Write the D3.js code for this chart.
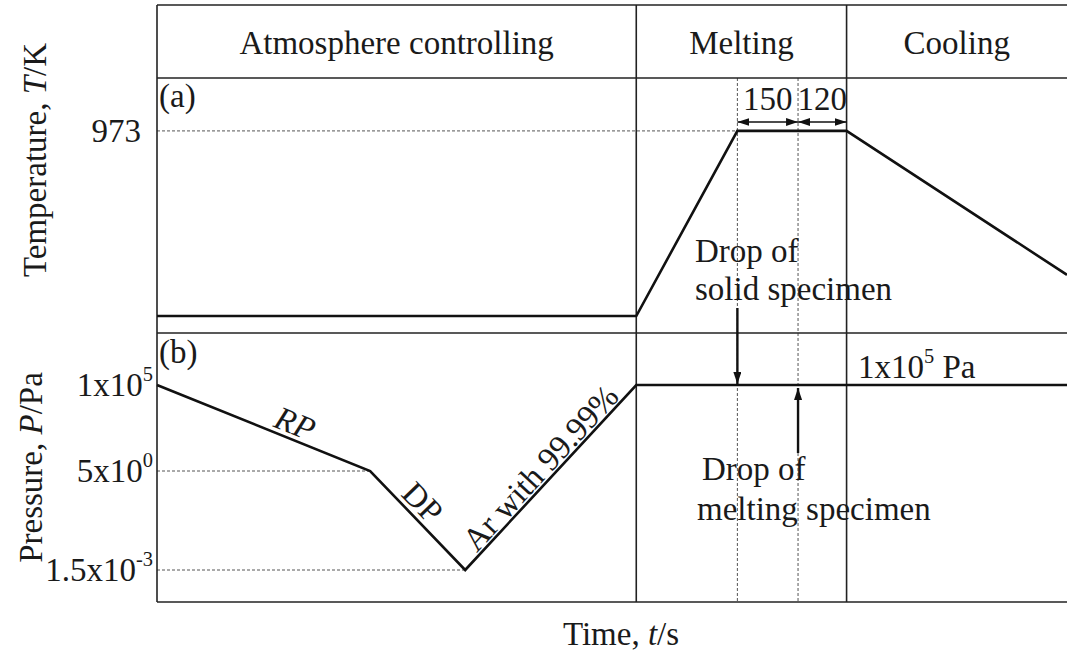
<!DOCTYPE html>
<html>
<head>
<meta charset="utf-8">
<script src="https://cdn.jsdelivr.net/npm/d3@7/dist/d3.min.js"></script>
<style>
  html, body { margin: 0; padding: 0; background: #fff; }
  svg text { font-family: "Liberation Serif", "Times New Roman", serif; fill: #1a1a1a; }
</style>
</head>
<body>
<svg id="chart" width="1067" height="653"></svg>
<script>
// Process stages along the time axis (s)
const phaseNames = ["Atmosphere controlling", "Melting", "Cooling"];
const phaseStart = [0, 1185, 1705];
const phaseEnd = [1185, 1705, 2250];

// Temperature history (K)
const tempTime = [0, 1185, 1435, 1705, 2250];
const tempK = [298, 298, 973, 973, 448];
const tempTicks = [973];

// Pressure history (Pa): rotary pump, diffusion pump, Ar back-fill, then held
const presTime = [0, 527, 762, 1185, 2250];
const presPa = [1e5, 5, 1.5e-3, 1e5, 1e5];
const presTicks = [1e5, 5, 1.5e-3];
const presTickBase = ["1x10", "5x10", "1.5x10"];
const presTickExp = ["5", "0", "-3"];
const segmentLabels = ["RP", "DP", "Ar with 99.99%"];

// Isothermal hold at 973 K: solid drop, then melt drop
const holdStart = 1435;
const holdDurations = [150, 120];

const plotLeft = 157, plotRight = 1067;
const frameTop = 5, headerBottom = 78, panelSplit = 333, frameBottom = 602;
const FS = 33;

const svg = d3.select("#chart");
const x = d3.scaleLinear().domain([0, 2250]).range([plotLeft, plotRight]);
const yT = d3.scaleLinear().domain([236, 1166]).range([panelSplit, headerBottom]);
// schematic pressure axis: logarithmic within each pumping stage
const yP = d3.scaleLog().domain([1.5e-3, 5, 1e5]).range([570, 471, 385]);

const defs = svg.append("defs");
defs.append("marker").attr("id", "head")
  .attr("markerUnits", "userSpaceOnUse")
  .attr("viewBox", "0 0 12 8").attr("refX", 12).attr("refY", 4)
  .attr("markerWidth", 12).attr("markerHeight", 8).attr("orient", "auto-start-reverse")
  .append("path").attr("d", "M0,0 L12,4 L0,8 Z").attr("fill", "#111");

// ---- dashed guides ----
const guide = svg.append("g").attr("stroke", "#555").attr("stroke-width", 1)
  .attr("stroke-dasharray", "3,2").attr("fill", "none");
guide.append("line").attr("x1", plotLeft).attr("x2", x(holdStart))
  .attr("y1", yT(973)).attr("y2", yT(973));
guide.append("line").attr("x1", plotLeft).attr("x2", x(presTime[1]))
  .attr("y1", yP(presPa[1])).attr("y2", yP(presPa[1]));
guide.append("line").attr("x1", plotLeft).attr("x2", x(presTime[2]))
  .attr("y1", yP(presPa[2])).attr("y2", yP(presPa[2]));
const holdMarks = [holdStart, holdStart + holdDurations[0]];
holdMarks.forEach(t => {
  guide.append("line").attr("x1", x(t)).attr("x2", x(t))
    .attr("y1", headerBottom).attr("y2", frameBottom);
});

// ---- frame ----
const frame = svg.append("g").attr("stroke", "#222").attr("stroke-width", 1.6).attr("fill", "none");
[frameTop, headerBottom, panelSplit, frameBottom].forEach(yv => {
  frame.append("line").attr("x1", plotLeft).attr("x2", plotRight).attr("y1", yv).attr("y2", yv);
});
frame.append("line").attr("x1", plotLeft).attr("x2", plotLeft).attr("y1", frameTop).attr("y2", frameBottom);
phaseStart.slice(1).forEach(t => {
  frame.append("line").attr("x1", x(t)).attr("x2", x(t)).attr("y1", frameTop).attr("y2", frameBottom);
});

// ---- stage headers ----
phaseNames.forEach((name, i) => {
  svg.append("text")
    .attr("x", (x(phaseStart[i]) + x(phaseEnd[i])) / 2)
    .attr("y", 54)
    .attr("text-anchor", "middle")
    .attr("font-size", FS)
    .text(name);
});

// ---- axes ----
const axT = svg.append("g").attr("transform", `translate(${plotLeft},0)`)
  .call(d3.axisLeft(yT).tickValues(tempTicks).tickSize(0).tickPadding(16));
axT.select(".domain").remove();
axT.selectAll("text").attr("font-size", FS).attr("font-family", null).attr("fill", null);

const axP = svg.append("g").attr("transform", `translate(${plotLeft},0)`)
  .call(d3.axisLeft(yP).tickValues(presTicks).tickSize(0).tickPadding(4).tickFormat(() => ""));
axP.select(".domain").remove();
axP.selectAll(".tick text").each(function(d) {
  const i = presTicks.indexOf(d);
  const t = d3.select(this).attr("font-size", FS).attr("font-family", null).attr("fill", null);
  t.append("tspan").text(presTickBase[i]);
  t.append("tspan").attr("font-size", FS * 0.62).attr("dy", "-0.75em").text(presTickExp[i]);
});

// axis titles
const tTitle = svg.append("text").attr("transform", `translate(46,160) rotate(-90)`)
  .attr("text-anchor", "middle").attr("font-size", FS);
tTitle.append("tspan").text("Temperature, ");
tTitle.append("tspan").attr("font-style", "italic").text("T");
tTitle.append("tspan").text("/K");

const pTitle = svg.append("text").attr("transform", `translate(42,${(panelSplit + frameBottom) / 2}) rotate(-90)`)
  .attr("text-anchor", "middle").attr("font-size", FS);
pTitle.append("tspan").text("Pressure, ");
pTitle.append("tspan").attr("font-style", "italic").text("P");
pTitle.append("tspan").text("/Pa");

const xTitle = svg.append("text").attr("x", (plotLeft + plotRight) / 2 + 9).attr("y", 645)
  .attr("text-anchor", "middle").attr("font-size", FS);
xTitle.append("tspan").text("Time, ");
xTitle.append("tspan").attr("font-style", "italic").text("t");
xTitle.append("tspan").text("/s");

// panel tags
svg.append("text").attr("x", plotLeft + 2).attr("y", 107).attr("font-size", FS).text("(a)");
svg.append("text").attr("x", plotLeft + 2).attr("y", 363).attr("font-size", FS).text("(b)");

// ---- curves ----
const tempData = tempTime.map((t, i) => [t, tempK[i]]);
const presData = presTime.map((t, i) => [t, presPa[i]]);
svg.append("path").datum(tempData)
  .attr("d", d3.line().x(d => x(d[0])).y(d => yT(d[1])))
  .attr("fill", "none").attr("stroke", "#111").attr("stroke-width", 2.6).attr("stroke-linejoin", "miter");
svg.append("path").datum(presData)
  .attr("d", d3.line().x(d => x(d[0])).y(d => yP(d[1])))
  .attr("fill", "none").attr("stroke", "#111").attr("stroke-width", 2.6).attr("stroke-linejoin", "miter");

// labels along pumping / filling segments
const segStyle = [
  { frac: 0.62, off: -5, italic: true },
  { frac: 0.43, off: -5, italic: false },
  { frac: 0.50, off: -3, italic: false }
];
segmentLabels.forEach((lab, i) => {
  const x1 = x(presTime[i]), y1 = yP(presPa[i]);
  const x2 = x(presTime[i + 1]), y2 = yP(presPa[i + 1]);
  const s = segStyle[i];
  const px = x1 + (x2 - x1) * s.frac, py = y1 + (y2 - y1) * s.frac;
  const ang = Math.atan2(y2 - y1, x2 - x1) * 180 / Math.PI;
  svg.append("text")
    .attr("transform", `translate(${px},${py}) rotate(${ang})`)
    .attr("y", s.off)
    .attr("text-anchor", "middle")
    .attr("font-size", FS)
    .attr("font-style", s.italic ? "italic" : null)
    .text(lab);
});

// ---- hold durations ----
const dimY = 122;
let tCursor = holdStart;
holdDurations.forEach(d => {
  const a = x(tCursor), b = x(tCursor + d);
  svg.append("line").attr("x1", a).attr("x2", b).attr("y1", dimY).attr("y2", dimY)
    .attr("stroke", "#111").attr("stroke-width", 1.6)
    .attr("marker-start", "url(#head)").attr("marker-end", "url(#head)");
  svg.append("text").attr("x", (a + b) / 2).attr("y", 110)
    .attr("text-anchor", "middle").attr("font-size", FS).text(d);
  tCursor += d;
});

// ---- specimen drop annotations ----
const dropSolid = svg.append("g").attr("font-size", FS);
dropSolid.append("text").attr("x", 695).attr("y", 262).text("Drop of");
dropSolid.append("text").attr("x", 695).attr("y", 300).text("solid specimen");
svg.append("line").attr("x1", x(holdMarks[0])).attr("x2", x(holdMarks[0]))
  .attr("y1", 308).attr("y2", yP(1e5) - 1)
  .attr("stroke", "#111").attr("stroke-width", 2.4).attr("marker-end", "url(#head)");

svg.append("line").attr("x1", x(holdMarks[1])).attr("x2", x(holdMarks[1]))
  .attr("y1", 453).attr("y2", yP(1e5) + 3)
  .attr("stroke", "#111").attr("stroke-width", 2.4).attr("marker-end", "url(#head)");
const dropMelt = svg.append("g").attr("font-size", FS);
dropMelt.append("text").attr("x", 702).attr("y", 480).text("Drop of");
dropMelt.append("text").attr("x", 697).attr("y", 520).text("melting specimen");

// held pressure label
const heldP = svg.append("text").attr("x", 858).attr("y", 378).attr("font-size", FS);
heldP.append("tspan").text("1x10");
heldP.append("tspan").attr("font-size", FS * 0.62).attr("dy", "-0.75em").text("5");
heldP.append("tspan").attr("dy", "0.47em").text(" Pa");
</script>
</body>
</html>
